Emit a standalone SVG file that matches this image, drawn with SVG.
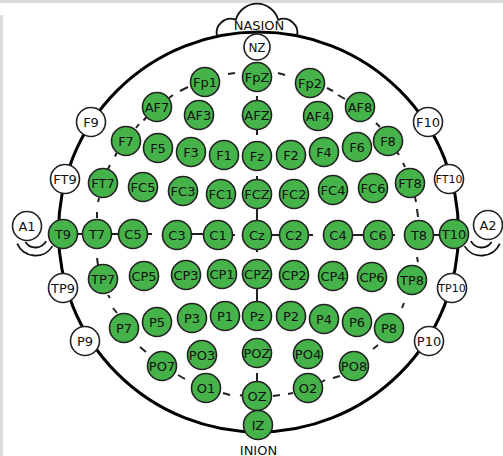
<svg xmlns="http://www.w3.org/2000/svg" width="503" height="456" viewBox="0 0 503 456">
<style>
.g{fill:#45b34a;stroke:#222;stroke-width:1.6}
.w{fill:#fff;stroke:#222;stroke-width:1.6}
text{font-family:"DejaVu Sans","Liberation Sans",sans-serif;font-size:13px;fill:#111;text-anchor:middle}
.s{font-size:11px}
.d{stroke:#222;stroke-width:2;fill:none}
.o{stroke:#000;stroke-width:3;fill:none}
.e{stroke:#111;stroke-width:1.8;fill:none}
</style>
<rect x="0" y="0" width="503" height="456" fill="#fff"/>
<rect x="0" y="0" width="503" height="3" fill="#dcdcd6"/>
<rect x="0" y="15" width="3" height="441" fill="#dcdcdc"/>
<g id="head">
<circle class="o" cx="258.5" cy="232" r="200"/>
<path class="e" d="M217 36 A14 14 0 0 1 235.8 19.8 A22 22 0 0 1 278.2 19.8 A14 14 0 0 1 297 36" fill="#fff"/>
<text x="259" y="30">NASION</text>
<text x="258.5" y="454.5">INION</text>
<path class="e" d="M25.4 242 A12 12 0 0 0 46.1 241.1"/>
<path class="e" d="M17.2 243.6 A20 20 0 0 0 52.5 246.1"/>
<path class="e" d="M491.6 242 A12 12 0 0 1 470.9 241.1"/>
<path class="e" d="M499.8 243.6 A20 20 0 0 1 464.5 246.1"/>
</g>
<g id="connectors">
<path class="d" d="M228 74L235 73M278 73L285 75M327 88L333 91M338 95L345 99M180 91L188 87M169 98L173 95M146.5 117L143.5 120.5M136 128L139 124M376 123L380 127M116.5 153L115 156.5M110 165L108 169M397 152L399 155M403 163L405 167M99 198L98 202M97 212L97 218M415 197L416 202M417 209L418 217M97 258L98 265M417 257L418 262M108 295L110 298M113 308L117 313M404 303L402 308M140 347L146 352M378 345L373 349M178 375L185 379M340 376L333 378M325 380L322 382M223 393L230 395M240 395L243 396M293 393L288 394M280 395L273 396"/>
<path class="d" d="M257 32L257 35M257 96L257 100M257 130L257 135M257 176L257 180M257 208L257 221M257 249L257 252M257 288L257 302M257 373L257 381"/>
<path class="d" d="M78 234L82 234M111 234L119 234M147 234L152 234M191 234L204 234M232 235L235 235M271 235L280 235M308 235L313 235M352 235L364 235M392 235L395 235M433 235L440 235"/>
</g>
<g id="NZ"><circle class="w" cx="257" cy="47" r="13"/><text x="257" y="51.5" style="font-size:12px">NZ</text></g>
<g id="Fp1"><circle class="g" cx="205" cy="82" r="14.5"/><text x="205" y="86.7">Fp1</text></g>
<g id="FpZ"><circle class="g" cx="257" cy="77" r="14.5"/><text x="257" y="81.7">FpZ</text></g>
<g id="Fp2"><circle class="g" cx="310" cy="83" r="14.5"/><text x="310" y="87.7">Fp2</text></g>
<g id="AF7"><circle class="g" cx="157" cy="107" r="14.5"/><text x="157" y="111.7">AF7</text></g>
<g id="AF3"><circle class="g" cx="199" cy="115" r="14.5"/><text x="199" y="119.7">AF3</text></g>
<g id="AFZ"><circle class="g" cx="257" cy="115" r="14.5"/><text x="257" y="119.7">AFZ</text></g>
<g id="AF4"><circle class="g" cx="318" cy="116" r="14.5"/><text x="318" y="120.7">AF4</text></g>
<g id="AF8"><circle class="g" cx="360" cy="107" r="14.5"/><text x="360" y="111.7">AF8</text></g>
<g id="F9"><circle class="w" cx="91" cy="122" r="14.5"/><text x="91" y="126.7">F9</text></g>
<g id="F10"><circle class="w" cx="428" cy="122" r="14.5"/><text x="428" y="126.7">F10</text></g>
<g id="F7"><circle class="g" cx="126" cy="141" r="14.5"/><text x="126" y="145.7">F7</text></g>
<g id="F5"><circle class="g" cx="158" cy="148" r="14.5"/><text x="158" y="152.7">F5</text></g>
<g id="F3"><circle class="g" cx="191" cy="152" r="14.5"/><text x="191" y="156.7">F3</text></g>
<g id="F1"><circle class="g" cx="224" cy="155" r="14.5"/><text x="224" y="159.7">F1</text></g>
<g id="Fz"><circle class="g" cx="257" cy="156" r="14.5"/><text x="257" y="160.7">Fz</text></g>
<g id="F2"><circle class="g" cx="291" cy="155" r="14.5"/><text x="291" y="159.7">F2</text></g>
<g id="F4"><circle class="g" cx="324" cy="152" r="14.5"/><text x="324" y="156.7">F4</text></g>
<g id="F6"><circle class="g" cx="357" cy="147" r="14.5"/><text x="357" y="151.7">F6</text></g>
<g id="F8"><circle class="g" cx="388" cy="141" r="14.5"/><text x="388" y="145.7">F8</text></g>
<g id="FT9"><circle class="w" cx="65" cy="179" r="14.5"/><text x="65" y="183.7">FT9</text></g>
<g id="FT7"><circle class="g" cx="103" cy="183" r="14.5"/><text x="103" y="187.7">FT7</text></g>
<g id="FC5"><circle class="g" cx="143" cy="187" r="14.5"/><text x="143" y="191.7">FC5</text></g>
<g id="FC3"><circle class="g" cx="183" cy="191" r="14.5"/><text x="183" y="195.7">FC3</text></g>
<g id="FC1"><circle class="g" cx="221" cy="194" r="14.5"/><text x="221" y="198.7">FC1</text></g>
<g id="FCZ"><circle class="g" cx="257" cy="194" r="14.5"/><text x="257" y="198.7">FCZ</text></g>
<g id="FC2"><circle class="g" cx="294" cy="194" r="14.5"/><text x="294" y="198.7">FC2</text></g>
<g id="FC4"><circle class="g" cx="333" cy="190" r="14.5"/><text x="333" y="194.7">FC4</text></g>
<g id="FC6"><circle class="g" cx="373" cy="188" r="14.5"/><text x="373" y="192.7">FC6</text></g>
<g id="FT8"><circle class="g" cx="410" cy="183" r="14.5"/><text x="410" y="187.7">FT8</text></g>
<g id="FT10"><circle class="w" cx="449" cy="179" r="14.5"/><text class="s" x="449" y="183">FT10</text></g>
<g id="A1"><circle class="w" cx="27" cy="226" r="14.5"/><text x="27" y="230.7">A1</text></g>
<g id="A2"><circle class="w" cx="488" cy="225" r="14.5"/><text x="488" y="229.7">A2</text></g>
<g id="T9"><circle class="g" cx="63" cy="234" r="14.5"/><text x="63" y="238.7">T9</text></g>
<g id="T7"><circle class="g" cx="97" cy="234" r="14.5"/><text x="97" y="238.7">T7</text></g>
<g id="C5"><circle class="g" cx="133" cy="234" r="14.5"/><text x="133" y="238.7">C5</text></g>
<g id="C3"><circle class="g" cx="177" cy="235" r="14.5"/><text x="177" y="239.7">C3</text></g>
<g id="C1"><circle class="g" cx="218" cy="235" r="14.5"/><text x="218" y="239.7">C1</text></g>
<g id="Cz"><circle class="g" cx="257" cy="235" r="14.5"/><text x="257" y="239.7">Cz</text></g>
<g id="C2"><circle class="g" cx="294" cy="235" r="14.5"/><text x="294" y="239.7">C2</text></g>
<g id="C4"><circle class="g" cx="338" cy="235" r="14.5"/><text x="338" y="239.7">C4</text></g>
<g id="C6"><circle class="g" cx="378" cy="235" r="14.5"/><text x="378" y="239.7">C6</text></g>
<g id="T8"><circle class="g" cx="419" cy="235" r="14.5"/><text x="419" y="239.7">T8</text></g>
<g id="T10"><circle class="g" cx="454" cy="234" r="14.5"/><text x="454" y="238.7">T10</text></g>
<g id="TP9"><circle class="w" cx="63" cy="288" r="14.5"/><text x="63" y="292.7">TP9</text></g>
<g id="TP7"><circle class="g" cx="103" cy="279" r="14.5"/><text x="103" y="283.7">TP7</text></g>
<g id="CP5"><circle class="g" cx="144" cy="276" r="14.5"/><text x="144" y="280.7">CP5</text></g>
<g id="CP3"><circle class="g" cx="186" cy="275" r="14.5"/><text x="186" y="279.7">CP3</text></g>
<g id="CP1"><circle class="g" cx="222" cy="274" r="14.5"/><text x="222" y="278.7">CP1</text></g>
<g id="CPZ"><circle class="g" cx="257" cy="274" r="14.5"/><text x="257" y="278.7">CPZ</text></g>
<g id="CP2"><circle class="g" cx="294" cy="275" r="14.5"/><text x="294" y="279.7">CP2</text></g>
<g id="CP4"><circle class="g" cx="333" cy="276" r="14.5"/><text x="333" y="280.7">CP4</text></g>
<g id="CP6"><circle class="g" cx="372" cy="277" r="14.5"/><text x="372" y="281.7">CP6</text></g>
<g id="TP8"><circle class="g" cx="412" cy="280" r="14.5"/><text x="412" y="284.7">TP8</text></g>
<g id="TP10"><circle class="w" cx="452" cy="288" r="14.5"/><text class="s" x="452" y="292">TP10</text></g>
<g id="P9"><circle class="w" cx="85" cy="341" r="14.5"/><text x="85" y="345.7">P9</text></g>
<g id="P7"><circle class="g" cx="124" cy="328" r="14.5"/><text x="124" y="332.7">P7</text></g>
<g id="P5"><circle class="g" cx="157" cy="322" r="14.5"/><text x="157" y="326.7">P5</text></g>
<g id="P3"><circle class="g" cx="192" cy="318" r="14.5"/><text x="192" y="322.7">P3</text></g>
<g id="P1"><circle class="g" cx="225" cy="316" r="14.5"/><text x="225" y="320.7">P1</text></g>
<g id="Pz"><circle class="g" cx="257" cy="316" r="14.5"/><text x="257" y="320.7">Pz</text></g>
<g id="P2"><circle class="g" cx="291" cy="316" r="14.5"/><text x="291" y="320.7">P2</text></g>
<g id="P4"><circle class="g" cx="324" cy="319" r="14.5"/><text x="324" y="323.7">P4</text></g>
<g id="P6"><circle class="g" cx="357" cy="322" r="14.5"/><text x="357" y="326.7">P6</text></g>
<g id="P8"><circle class="g" cx="389" cy="328" r="14.5"/><text x="389" y="332.7">P8</text></g>
<g id="P10"><circle class="w" cx="429" cy="341" r="14.5"/><text x="429" y="345.7">P10</text></g>
<g id="PO7"><circle class="g" cx="162" cy="366" r="14.5"/><text x="162" y="370.7">PO7</text></g>
<g id="PO3"><circle class="g" cx="202" cy="355" r="14.5"/><text x="202" y="359.7">PO3</text></g>
<g id="POZ"><circle class="g" cx="257" cy="353" r="14.5"/><text x="257" y="357.7">POZ</text></g>
<g id="PO4"><circle class="g" cx="308" cy="354" r="14.5"/><text x="308" y="358.7">PO4</text></g>
<g id="PO8"><circle class="g" cx="354" cy="366" r="14.5"/><text x="354" y="370.7">PO8</text></g>
<g id="O1"><circle class="g" cx="206" cy="388" r="14.5"/><text x="206" y="392.7">O1</text></g>
<g id="OZ"><circle class="g" cx="257" cy="396" r="14.5"/><text x="257" y="400.7">OZ</text></g>
<g id="O2"><circle class="g" cx="308" cy="388" r="14.5"/><text x="308" y="392.7">O2</text></g>
<g id="IZ"><circle class="g" cx="258" cy="425" r="14.5"/><text x="258" y="429.7">IZ</text></g>
</svg>
